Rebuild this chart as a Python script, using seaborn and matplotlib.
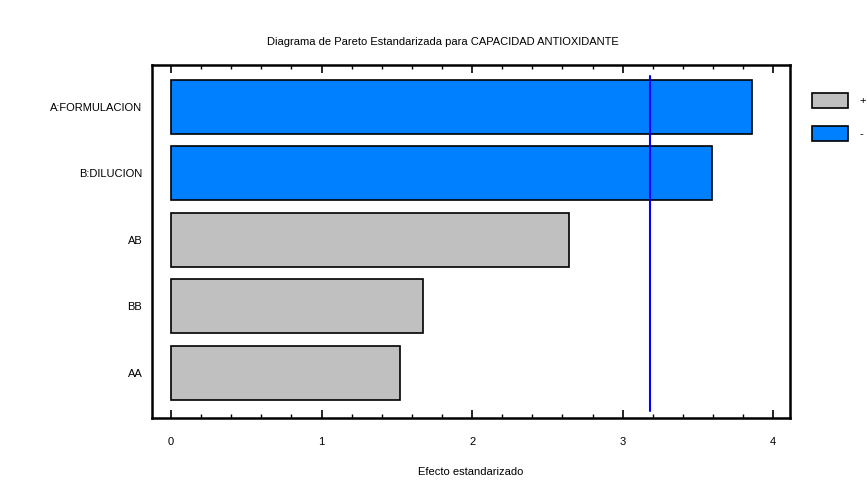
import numpy as np
import pandas as pd
import seaborn as sns
import matplotlib.pyplot as plt
import matplotlib.patches as mpatches
from matplotlib.ticker import MultipleLocator

# values
factores = ['A:FORMULACION', 'B:DILUCION', 'AB', 'BB', 'AA']
efectos = [3.86, 3.59, 2.645, 1.674, 1.52]
signos = ['-', '-', '+', '+', '+']
limite = 3.18
colores = {'+': '#C0C0C0', '-': '#0080FF'}

sns.set_style('white')
plt.rcParams['font.family'] = ['Liberation Sans', 'DejaVu Sans']
plt.rcParams['text.color'] = 'black'
plt.rcParams['xtick.color'] = 'black'
plt.rcParams['ytick.color'] = 'black'
plt.rcParams['axes.labelcolor'] = 'black'

df = pd.DataFrame({'factor': factores, 'efecto': efectos, 'signo': signos})

fig = plt.figure(figsize=(8.67, 4.83), dpi=100)
ax = fig.add_axes([0.1753, 0.1346, 0.7357, 0.7308])

sns.barplot(data=df, x='efecto', y='factor', hue='signo', orient='h',
            palette=colores, dodge=False, width=0.81, order=factores,
            saturation=1, edgecolor='black', linewidth=1.2, legend=False, ax=ax)

ax.axvline(limite, ymin=0.02, ymax=0.97, color='#0000FF', lw=1.5)

ax.set_xlim(-0.126, 4.11)
ax.set_ylim(4.68, -0.63)
ax.xaxis.set_major_locator(MultipleLocator(1))
ax.xaxis.set_minor_locator(MultipleLocator(0.2))
ax.tick_params(axis='x', which='major', direction='in', length=6, width=1.2,
               top=True, bottom=True, pad=14, labelsize=8)
ax.tick_params(axis='x', which='minor', direction='in', length=3, width=1,
               top=True, bottom=True)
ax.tick_params(axis='y', length=0, pad=7, labelsize=8)
for s in ax.spines.values():
    s.set_visible(True)
    s.set_linewidth(1.8)
    s.set_color('black')

ax.set_ylabel('')
ax.set_xlabel('Efecto estandarizado', fontsize=8, labelpad=14)
fig.text(0.511, 0.913, 'Diagrama de Pareto Estandarizada para CAPACIDAD ANTIOXIDANTE',
         ha='center', va='center', fontsize=8)

handles = [mpatches.Patch(facecolor=colores['+'], edgecolor='black', lw=1.2, label='+'),
           mpatches.Patch(facecolor=colores['-'], edgecolor='black', lw=1.2, label='-')]
fig.legend(handles=handles, loc='upper left', bbox_to_anchor=(0.932, 0.816),
           frameon=False, handlelength=3.2, handleheight=1.7, fontsize=8,
           labelspacing=1.55, handletextpad=1.0, borderaxespad=0)

plt.savefig('out.png', dpi=100)
